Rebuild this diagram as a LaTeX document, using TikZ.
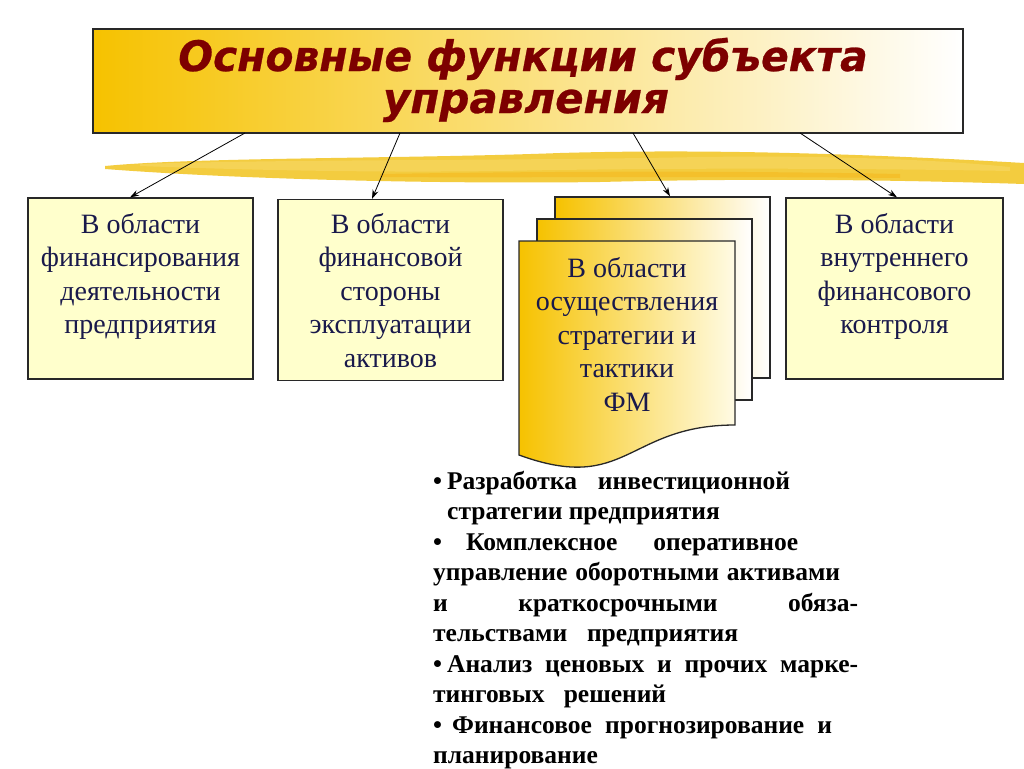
\documentclass[tikz,border=0pt]{standalone}
\usepackage{fontspec}
\setmainfont{Liberation Serif}
\newfontfamily\titlefont[BoldItalicFeatures={FakeBold=0.6}]{DejaVu Sans}
\usetikzlibrary{arrows.meta}
\definecolor{gold}{RGB}{246,194,0}
\definecolor{boxfill}{RGB}{255,255,204}
\definecolor{navy}{RGB}{25,25,75}
\definecolor{titlered}{RGB}{125,0,0}
\definecolor{brushc}{RGB}{242,196,30}
\definecolor{edge}{RGB}{40,40,40}
\definecolor{paleend}{RGB}{255,251,228}
\begin{document}
\begin{tikzpicture}[x=1pt,y=-1pt,
 box/.style={draw=edge, line width=1.3pt, fill=boxfill, minimum width=225pt, minimum height=181pt, inner sep=0pt},
 sheet/.style={draw=edge, line width=1.3pt, left color=gold, right color=white, minimum width=215pt, minimum height=181pt, inner sep=0pt},
 boxtext/.style={font=\fontsize{28}{33.5}\selectfont, text=navy, align=center, inner sep=0pt, anchor=north},
 conn/.style={draw=black, line width=0.8pt, -{Stealth[length=9pt,width=6pt]}},
 bl/.style={font=\fontsize{25.5}{30}\selectfont\bfseries, anchor=base west, inner sep=0pt},
 ttl/.style={font=\titlefont\bfseries\itshape\fontsize{42}{42}\selectfont, text=titlered, anchor=base, inner sep=0pt},
]
\useasboundingbox (0,0) rectangle (1024,768);
\fill[white] (0,0) rectangle (1024,768);

% brush stroke
\fill[brushc, opacity=0.85] (105,166) .. controls (200,157) and (400,159) .. (560,153) .. controls (700,149) and (850,153) .. (1024,163) -- (1024,184) .. controls (900,180) and (760,178) .. (600,182) .. controls (450,184) and (250,180) .. (105,169) -- cycle;
\fill[brushc!70!white, opacity=0.7] (140,164) .. controls (300,159) and (500,161) .. (700,157) .. controls (850,155) and (950,161) .. (1010,167) -- (1010,171) .. controls (900,169) and (700,167) .. (500,171) .. controls (350,173) and (220,169) .. (140,166) -- cycle;
\fill[brushc!80!orange, opacity=0.5] (380,174) .. controls (500,172) and (700,170) .. (900,174) -- (900,178) .. controls (700,176) and (500,178) .. (380,177) -- cycle;

% title
\node[draw=edge, line width=1.3pt, left color=gold, right color=white, minimum width=870pt, minimum height=104pt, inner sep=0pt] (title) at (528,81) {};
\node[ttl] (t1) at (523,71) {\scalebox{0.972}[1]{Основные функции субъекта}};
\node[ttl] (t2) at (526,113) {управления};

% boxes
\node[box] (b1) at (140.5,288.5) {};
\node[box] (b2) at (390.5,290) {};
\node[box, minimum width=217pt] (b4) at (894.5,288.5) {};

\node[boxtext] (b1t) at (140.5,213) {В области\\финансирования\\деятельности\\предприятия};
\node[boxtext] (b2t) at (390.5,213) {В области\\финансовой\\стороны\\эксплуатации\\активов};
\node[boxtext] (b4t) at (894.5,213) {В области\\внутреннего\\финансового\\контроля};

% stacked documents
\node[sheet] (d3) at (662.5,287.5) {};
\node[sheet] (d2) at (644.5,309.5) {};
\draw[edge, line width=1.3pt, left color=gold, right color=paleend] (519,241) -- (735,241) -- (735,425) .. controls (627,425) and (627,494.5) .. (519,455) -- cycle;
\node[boxtext] (d1t) at (627,257) {В области\\осуществления\\стратегии и\\тактики\\ФМ};

% connectors
\coordinate (s1) at (245,133);
\coordinate (s2) at (400,133);
\coordinate (s3) at (633,133);
\coordinate (s4) at (800,133);
\draw[conn] (s1) -- ([xshift=-10.5pt]b1.north);
\draw[conn] (s2) -- ([xshift=-18.5pt]b2.north);
\draw[conn] (s3) -- ([xshift=7.5pt]d3.north);
\draw[conn] (s4) -- ([xshift=2.5pt]b4.north);

% bullet list
\node[bl] (l1) at (433,489) {\makebox[357pt][s]{•\kern5pt Разработка инвестиционной}};
\node[bl] (l2) at (447,519.5) {стратегии предприятия};
\node[bl] (l3) at (433,550) {\makebox[365pt][s]{•\kern24pt Комплексное оперативное}};
\node[bl] (l4) at (433,580.5) {\makebox[407pt][s]{управление оборотными активами}};
\node[bl] (l5) at (433,611) {\makebox[425pt][s]{и краткосрочными обяза-}};
\node[bl] (l6) at (433,641.5) {\makebox[305pt][s]{тельствами предприятия}};
\node[bl] (l7) at (433,672) {\makebox[425pt][s]{•\kern5pt Анализ ценовых и прочих марке-}};
\node[bl] (l8) at (433,702.5) {\makebox[233pt][s]{тинговых решений}};
\node[bl] (l9) at (433,733) {\makebox[399pt][s]{•\kern10pt Финансовое прогнозирование и}};
\node[bl] (l10) at (433,763.5) {планирование};
\end{tikzpicture}
\end{document}
